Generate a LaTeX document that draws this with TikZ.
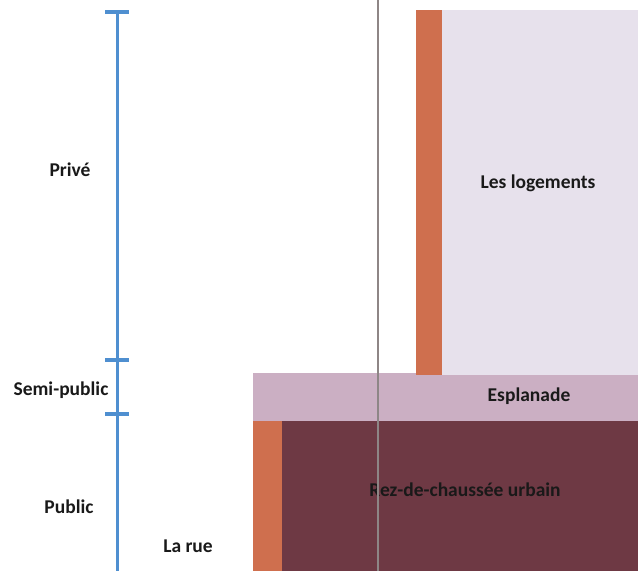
\documentclass[tikz,border=0pt]{standalone}
\usepackage{fontspec}
\setmainfont{Carlito}
\usetikzlibrary{positioning}
\definecolor{axisblue}{HTML}{4F8FD0}
\definecolor{brick}{HTML}{CF6F4E}
\definecolor{lavender}{HTML}{E7E1EC}
\definecolor{mauve}{HTML}{CBAFC3}
\definecolor{maroon}{HTML}{6E3944}
\definecolor{cutline}{HTML}{8E8686}
\tikzstyle{label} = [font=\bfseries\fontsize{19.5}{21}\selectfont, text=black!90, inner sep=0pt]
\tikzstyle{tick} = [axisblue, line width=3.6pt]
\begin{document}
\begin{tikzpicture}[x=1pt,y=-1pt]
    \useasboundingbox (0,0) rectangle (638,571);

    % the building, bottom up
    \fill[brick]    (253,421) rectangle (282,571);
    \fill[maroon]   (282,421) rectangle (638,571);
    \fill[mauve]    (253,373) rectangle (638,421);
    \fill[brick]    (416,10) rectangle (442,375);
    \fill[lavender] (442,10) rectangle (638,375);

    \node[label] (logements) at (538,183) {Les logements};
    \node[label] (esplanade) at (529,396) {Esplanade};
    \node[label] (rdc) at (465,490) {Rez-de-chaussée urbain};

    % section cut
    \coordinate (cuttop) at (378,0);
    \coordinate (cutbot) at (378,571);
    \draw[cutline, line width=1.8pt] (cuttop) -- (cutbot);

    % privacy scale
    \coordinate (top) at (117,12);
    \coordinate (semi) at (117,360);
    \coordinate (pub) at (117,414);
    \coordinate (bot) at (117,571);
    \draw[axisblue, line width=3pt] (top) -- (bot);
    \foreach \t in {top,semi,pub}
     \draw[tick] ([xshift=-12pt]\t) -- ([xshift=12pt]\t);

    \node[label] (prive) at (70,170) {Privé};
    \node[label] (semipublic) at (61,390) {Semi-public};
    \node[label] (public) at (69,507) {Public};
    \node[label] (rue) at (188,546) {La rue};
\end{tikzpicture}
\end{document}
